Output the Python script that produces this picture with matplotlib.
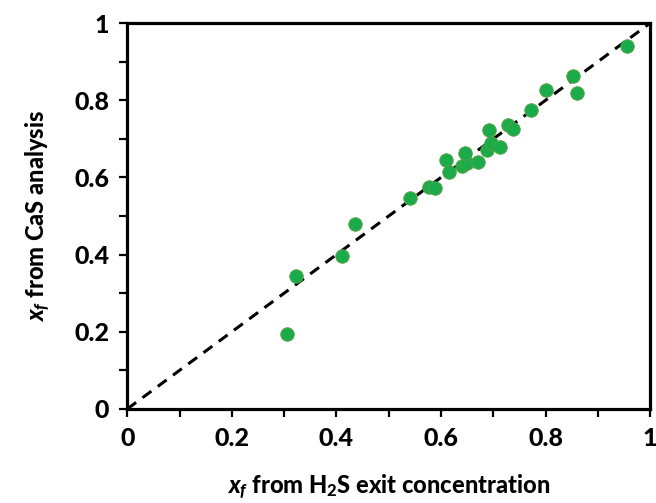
import matplotlib.pyplot as plt
from matplotlib.ticker import MultipleLocator

# conversion from H2S exit concentration vs conversion from CaS analysis
x_h2s = [0.305, 0.323, 0.435, 0.410, 0.540, 0.577, 0.589, 0.610, 0.616, 0.640,
         0.650, 0.646, 0.670, 0.689, 0.695, 0.691, 0.712, 0.728, 0.737, 0.773,
         0.801, 0.853, 0.860, 0.955]
x_cas = [0.193, 0.345, 0.479, 0.396, 0.547, 0.574, 0.572, 0.646, 0.614, 0.629,
         0.637, 0.663, 0.641, 0.672, 0.689, 0.722, 0.679, 0.735, 0.726, 0.774,
         0.827, 0.863, 0.820, 0.940]

plt.rcParams['font.family'] = 'Lato'
plt.rcParams['mathtext.fontset'] = 'custom'
plt.rcParams['mathtext.rm'] = 'Lato:black'
plt.rcParams['mathtext.it'] = 'Lato:italic:black'
plt.rcParams['mathtext.bf'] = 'Lato:black'

fig = plt.figure(figsize=(6.56, 5.03), dpi=100)
ax = fig.add_axes([0.194, 0.187, 0.797, 0.767])

# parity line
ax.plot([0, 1], [0, 1], color='black', linestyle=(0, (3.6, 2.6)), linewidth=2.2, zorder=2)
ax.scatter(x_h2s, x_cas, s=95, color='#1cab4b', edgecolors='#5aa040',
           linewidths=0.6, zorder=3)

ax.set_xlim(0, 1)
ax.set_ylim(0, 1)
ax.xaxis.set_major_locator(MultipleLocator(0.2))
ax.yaxis.set_major_locator(MultipleLocator(0.2))
ax.xaxis.set_minor_locator(MultipleLocator(0.1))
ax.yaxis.set_minor_locator(MultipleLocator(0.1))
ax.xaxis.set_major_formatter(lambda v, p: f'{v:g}')
ax.yaxis.set_major_formatter(lambda v, p: f'{v:g}')
ax.tick_params(which='both', direction='out', length=6, width=1.6, colors='black')
ax.tick_params(which='major', labelsize=18, pad=7)
for lab in ax.get_xticklabels() + ax.get_yticklabels():
    lab.set_fontweight('black')
for sp in ax.spines.values():
    sp.set_linewidth(2.3)

ax.set_xlabel(r'$x_f$ from H$_2$S exit concentration', fontsize=17,
              fontweight='black', labelpad=16)
ax.set_ylabel(r'$x_f$ from CaS analysis', fontsize=17, fontweight='black',
              labelpad=16)

fig.savefig('out.png', dpi=100)
